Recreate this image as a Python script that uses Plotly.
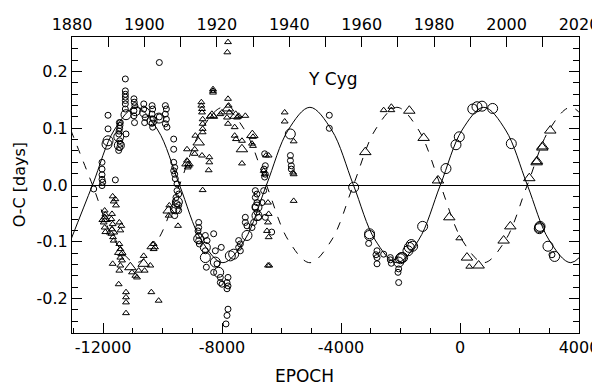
import plotly.graph_objects as go

# primary minima (circles) and secondary minima (triangles): (epoch, O-C days)
primary_small = [
    (-10107, 0.216), (-11249, 0.187),
    (-11249, 0.166), (-11249, 0.160), (-11249, 0.155), (-11249, 0.149), (-11249, 0.143), (-11249, 0.134),
    (-10960, 0.152), (-10950, 0.146), (-10930, 0.140), (-10960, 0.131), (-10960, 0.122), (-10940, 0.110),
    (-10630, 0.143), (-10630, 0.134), (-10580, 0.119), (-10600, 0.110),
    (-10350, 0.140), (-10330, 0.134), (-10350, 0.125), (-10320, 0.116), (-10350, 0.109), (-10330, 0.102),
    (-9905, 0.140), (-9870, 0.134), (-9905, 0.125), (-9870, 0.116), (-9905, 0.108), (-9850, 0.102),
    (-10107, 0.120), (-11417, 0.110), (-11831, 0.123), (-11831, 0.099),
    (-11440, 0.100), (-11470, 0.090), (-11440, 0.078), (-11440, 0.066), (-11473, 0.061),
    (-11450, 0.110), (-11430, 0.105), (-11460, 0.095), (-11420, 0.072), (-11227, 0.090),
    (-12033, 0.040), (-12033, 0.028), (-12033, 0.018), (-12033, 0.010), (-12010, 0.005), (-12033, -0.001),
    (-12313, -0.007), (-11585, 0.009),
    (-9624, 0.081), (-9624, 0.063),
    (-9624, 0.040), (-9590, 0.031), (-9624, 0.025), (-9590, 0.019), (-9568, 0.011), (-9512, 0.002),
    (-9512, -0.010), (-9456, -0.016), (-9546, -0.022), (-9512, -0.033), (-9456, -0.036),
    (-9624, -0.045), (-9456, -0.045), (-9590, -0.054),
    (-8784, -0.066), (-8784, -0.075), (-8806, -0.081), (-8784, -0.089), (-8784, -0.098), (-8762, -0.104),
    (-8560, -0.089), (-8504, -0.098), (-8560, -0.116), (-8526, -0.145),
    (-8280, -0.086), (-8224, -0.116), (-8168, -0.139),
    (-8280, -0.154), (-8056, -0.163), (-8056, -0.172), (-8000, -0.175), (-8025, -0.110),
    (-7798, -0.163), (-7832, -0.172), (-7798, -0.178), (-7832, -0.183),
    (-7798, -0.219), (-7832, -0.230), (-7866, -0.245),
    (-7440, -0.098), (-7384, -0.104), (-7440, -0.110), (-7384, -0.116),
    (-7216, -0.057), (-7216, -0.066), (-7160, -0.072),
    (-6936, -0.066), (-6992, -0.075),
    (-6880, -0.010), (-6824, -0.016), (-6880, -0.022), (-6824, -0.031), (-6880, -0.039),
    (-6824, -0.048), (-6768, -0.057),
    (-6656, -0.031), (-6600, -0.010),
    (-6566, 0.055), (-6544, 0.034), (-6589, 0.028), (-6544, 0.019), (-6566, 0.014),
    (-6544, -0.057), (-6330, -0.083),
    (-5700, 0.052), (-5700, 0.043), (-5670, 0.034), (-5670, 0.028),
    (-4393, 0.123), (-4393, 0.100), (-3071, -0.103),
    (-2790, -0.116), (-2824, -0.123), (-2790, -0.128), (-2790, -0.139), (-2566, -0.122),
    (-2342, -0.128), (-2342, -0.132), (-2308, -0.138), (-2062, -0.148), (-2084, -0.154), (-2062, -0.172),
    (3091, -0.123),
]

primary_large = [
    (-10600, 0.128), (-10353, 0.113), (-11227, 0.124), (-11831, 0.078), (-11865, 0.072),
    (-11470, 0.085), (-11450, 0.070), (-10913, 0.131), (-10120, 0.118),
    (-9568, -0.042), (-9500, -0.030),
    (-8784, -0.095), (-8560, -0.110), (-8560, -0.128), (-8224, -0.136), (-8112, -0.154),
    (-7720, -0.125), (-7608, -0.122), (-7160, -0.089), (-6824, -0.039), (-6824, -0.054),
    (-5704, 0.090), (-3575, -0.004), (-3040, -0.086), (-3040, -0.089),
    (-2062, -0.136), (-2006, -0.130), (-1973, -0.128), (-1928, -0.128), (-1750, -0.116),
    (-1704, -0.110), (-1637, -0.105), (-1592, -0.108), (-1256, -0.073), (-472, 0.029),
    (-135, 0.071), (-24, 0.085),
    (430, 0.134), (571, 0.138), (739, 0.139), (1097, 0.135), (1725, 0.073),
    (2665, -0.077), (2677, -0.075), (2690, -0.073), (2957, -0.108), (3181, -0.126),
]

secondary_small = [
    (-11675, -0.020), (-11641, -0.029), (-11585, -0.025), (-11563, -0.036),
    (-11944, -0.045), (-11944, -0.057), (-11977, -0.066), (-11944, -0.075), (-11921, -0.083),
    (-11921, -0.052), (-11944, -0.062),
    (-11697, -0.051), (-11719, -0.060), (-11675, -0.069), (-11697, -0.078), (-11719, -0.086),
    (-11663, -0.092), (-11641, -0.098),
    (-11451, -0.066), (-11384, -0.072), (-11417, -0.080),
    (-11451, -0.104), (-11417, -0.113), (-11384, -0.122), (-11417, -0.128), (-11361, -0.133),
    (-11417, -0.142), (-11451, -0.151), (-11473, -0.175),
    (-11675, -0.139),
    (-11227, -0.189), (-11227, -0.198), (-11227, -0.207), (-11227, -0.226),
    (-11025, -0.154), (-10913, -0.160), (-10857, -0.163),
    (-10801, -0.151), (-10633, -0.125), (-10600, -0.151),
    (-10409, -0.142), (-10297, -0.104), (-10297, -0.113),
    (-10375, -0.189), (-10129, -0.204),
    (-9793, -0.054), (-9771, -0.036),
    (-7798, 0.252), (-7820, 0.234),
    (-8302, 0.169), (-8302, 0.166), (-8302, 0.163),
    (-8694, 0.146), (-8694, 0.140), (-8672, 0.134), (-8672, 0.128), (-8650, 0.116),
    (-8650, 0.108), (-8650, 0.099), (-8650, 0.093),
    (-8392, 0.122), (-8280, 0.122),
    (-8056, 0.125), (-8000, 0.128),
    (-7798, 0.152), (-7776, 0.140), (-7754, 0.128), (-7832, 0.119), (-7798, 0.108),
    (-7496, 0.119), (-7440, 0.122), (-7216, 0.122),
    (-7574, 0.102), (-7574, 0.087), (-7530, 0.081),
    (-7328, 0.078), (-7328, 0.038),
    (-6958, 0.085), (-6992, 0.073), (-6958, 0.069),
    (-8896, 0.087), (-8918, 0.063), (-8918, 0.055), (-9176, 0.063),
    (-9176, 0.043), (-9142, 0.037), (-9120, 0.034), (-9154, 0.031),
    (-8672, 0.052),
    (-8426, 0.049), (-8426, 0.040), (-8448, 0.026),
    (-8650, -0.009), (-9478, -0.072),
    (-6522, 0.052), (-6432, 0.052), (-6600, 0.025), (-6566, 0.019),
    (-6454, -0.031), (-6432, -0.051), (-6454, -0.066), (-6488, -0.081), (-6432, -0.092),
    (-6454, -0.142), (-6410, -0.142),
    (-5893, 0.128), (-5893, 0.112), (-5591, 0.077), (-5610, 0.022), (-5591, 0.019), (-5591, -0.028),
    (-2566, 0.132), (-2308, 0.138), (-2308, 0.132), (-24, -0.094), (312, -0.144),
]

secondary_large = [
    (-11081, -0.145), (-10633, -0.139), (-10330, -0.108), (-9793, -0.045),
    (-11700, -0.082), (-11944, -0.060), (-11420, -0.118),
    (-8784, 0.075), (-7800, 0.135), (-7540, 0.122), (-8340, 0.122), (-6980, 0.088),
    (-7330, 0.063), (-9160, 0.038),
    (-3183, 0.058),
    (-1704, 0.131), (-1222, 0.083), (-740, 0.008), (-360, -0.057), (234, -0.128), (627, -0.142),
    (1467, -0.098), (1691, -0.073), (2329, 0.012),
    (2575, 0.040), (2587, 0.042), (2765, 0.066), (2777, 0.068), (3035, 0.096),
]

# apsidal-motion fit (nodes at eighth-period steps)
fit_epoch = [-13083, -12352, -11621, -10891, -10160, -9429, -8698, -7968, -7237,
             -6506, -5775, -5045, -4314, -3583, -2852, -2122, -1391,
             -660, 71, 802, 1532, 2263, 2994, 3725, 4455]
fit_primary = [-0.097, 0.0, 0.097, 0.137, 0.097, 0.0, -0.097, -0.137, -0.097,
               0.0, 0.097, 0.137, 0.097, 0.0, -0.097, -0.137, -0.097,
               0.0, 0.097, 0.137, 0.097, 0.0, -0.097, -0.137, -0.097]
fit_secondary = [0.097, 0.0, -0.097, -0.137, -0.097, 0.0, 0.097, 0.137, 0.097,
                 0.0, -0.097, -0.137, -0.097, 0.0, 0.097, 0.137, 0.097,
                 0.0, -0.097, -0.137, -0.097, 0.0, 0.097, 0.137, 0.097]

epoch_ticks = [-12000, -8000, -4000, 0, 4000]
epoch_labels = ["-12000", "-8000", "-4000", "0", "4000"]
oc_ticks = [-0.2, -0.1, 0.0, 0.1, 0.2]
oc_labels = ["-0.2", "-0.1", "0.0", "0.1", "0.2"]
year_ticks = [1880, 1900, 1920, 1940, 1960, 1980, 2000, 2020]
year_labels = [str(y) for y in year_ticks]

FONT = "DejaVu Sans"


def split(points):
    return [p[0] for p in points], [p[1] for p in points]


fig = go.Figure()

fig.add_trace(go.Scatter(
    x=fit_epoch, y=fit_secondary, mode="lines", line_shape="spline",
    line=dict(color="black", width=1, dash="8px,9px"),
))
fig.add_trace(go.Scatter(
    x=fit_epoch, y=fit_primary, mode="lines", line_shape="spline",
    line=dict(color="black", width=1),
))

for pts, symbol, size in [
    (secondary_small, "triangle-up-open", 6),
    (secondary_large, "triangle-up-open", 10),
    (primary_small, "circle-open", 6),
    (primary_large, "circle-open", 10),
]:
    xs, ys = split(pts)
    fig.add_trace(go.Scatter(
        x=xs, y=ys, mode="markers",
        marker=dict(symbol=symbol, size=size, color="black", line=dict(width=1, color="black")),
    ))

# empty trace so the year axis on top gets drawn
fig.add_trace(go.Scatter(
    x=[year_ticks[0], year_ticks[-1]], y=[None, None], xaxis="x2",
    mode="lines", hoverinfo="skip",
))

# the page body adds an 8px offset, so the figure is 8px smaller than the window
fig.update_layout(
    width=592,
    height=379,
    showlegend=False,
    paper_bgcolor="white",
    plot_bgcolor="white",
    margin=dict(l=64, r=21, t=29, b=54, autoexpand=False),
    font=dict(family=FONT, size=16, color="black"),
    xaxis=dict(
        range=[-13042, 4000], automargin=False,
        tickmode="array", tickvals=epoch_ticks, ticktext=epoch_labels,
        ticks="inside", ticklen=10, tickcolor="black",
        minor=dict(dtick=1000, tick0=0, ticks="inside", ticklen=5, tickcolor="black"),
        showline=True, linecolor="black", linewidth=1, mirror=True,
        showgrid=False, zeroline=False,
        tickfont=dict(family=FONT, size=16),
    ),
    xaxis2=dict(
        overlaying="x", side="top", anchor="y", automargin=False,
        range=[1880, 2020],
        tickmode="array", tickvals=year_ticks, ticktext=year_labels,
        ticks="inside", ticklen=10, tickcolor="black",
        minor=dict(dtick=10, tick0=1880, ticks="inside", ticklen=10, tickcolor="black"),
        showline=True, linecolor="black", linewidth=1,
        showgrid=False, zeroline=False,
        tickfont=dict(family=FONT, size=16),
    ),
    yaxis=dict(
        range=[-0.261, 0.261], automargin=False,
        tickmode="array", tickvals=oc_ticks, ticktext=oc_labels,
        ticks="inside", ticklen=10, tickcolor="black",
        minor=dict(dtick=0.02, tick0=0, ticks="inside", ticklen=6, tickcolor="black"),
        showline=True, linecolor="black", linewidth=1, mirror="ticks",
        showgrid=False,
        zeroline=True, zerolinecolor="black", zerolinewidth=1,
        tickfont=dict(family=FONT, size=16),
    ),
    annotations=[
        dict(text="Y Cyg", xref="paper", yref="paper", x=0.515, y=0.899,
             showarrow=False, font=dict(family=FONT, size=17)),
        dict(text="EPOCH", xref="paper", yref="paper", x=0.459, y=-0.145,
             xanchor="center", yanchor="middle", showarrow=False,
             font=dict(family=FONT, size=17)),
        dict(text="O-C [days]", xref="paper", yref="paper", x=-0.104, y=0.5,
             xanchor="center", yanchor="middle", textangle=-90, showarrow=False,
             font=dict(family=FONT, size=16)),
    ],
)

fig.write_html("out.html")
